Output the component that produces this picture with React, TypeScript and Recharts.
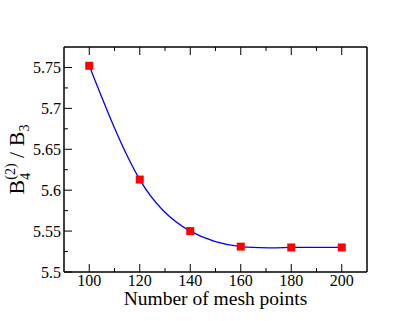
import { LineChart, Line, XAxis, YAxis, Label } from 'recharts';

const meshPoints = [100, 120, 140, 160, 180, 200];
const ratioValues = [5.752, 5.613, 5.55, 5.531, 5.53, 5.53];

const xTicks = [100, 110, 120, 130, 140, 150, 160, 170, 180, 190, 200];
const xLabels = ['100', '120', '140', '160', '180', '200'];
const yTicks = [5.5, 5.525, 5.55, 5.575, 5.6, 5.625, 5.65, 5.675, 5.7, 5.725, 5.75];
const yLabels = ['5.5', '5.55', '5.6', '5.65', '5.7', '5.75'];

const data = meshPoints.map((m, i) => ({ mesh: m, ratio: ratioValues[i] }));

const FONT = "'Liberation Serif', serif";

const isMajorX = (v: number) => xLabels.includes(String(v));
const yLabelFor = (v: number) => yLabels.find((l) => Math.abs(parseFloat(l) - v) < 1e-6);

function BottomTick(props: any) {
  const { x, y, payload } = props;
  const major = isMajorX(payload.value);
  return (
    <g>
      <line x1={x} x2={x} y1={y} y2={y - (major ? 8 : 4)} stroke="#000" strokeWidth={1} />
      {major && (
        <text x={x} y={y + 14} textAnchor="middle" style={{ fontFamily: FONT, fontSize: 16 }} fill="#000">
          {payload.value}
        </text>
      )}
    </g>
  );
}

function TopTick(props: any) {
  const { x, y, payload } = props;
  const major = isMajorX(payload.value);
  return <line x1={x} x2={x} y1={y} y2={y + (major ? 8 : 4)} stroke="#000" strokeWidth={1} />;
}

function LeftTick(props: any) {
  const { x, y, payload } = props;
  const label = yLabelFor(payload.value);
  return (
    <g>
      <line x1={x} x2={x + (label ? 8 : 4)} y1={y} y2={y} stroke="#000" strokeWidth={1} />
      {label && (
        <text x={x - 3} y={y + 5.5} textAnchor="end" style={{ fontFamily: FONT, fontSize: 16 }} fill="#000">
          {label}
        </text>
      )}
    </g>
  );
}

function RightTick(props: any) {
  const { x, y, payload } = props;
  const major = yLabelFor(payload.value) !== undefined;
  return <line x1={x} x2={x - (major ? 8 : 4)} y1={y} y2={y} stroke="#000" strokeWidth={1} />;
}

function XTitle(props: any) {
  const vb = props.viewBox;
  return (
    <text x={vb.x + vb.width / 2} y={vb.y + 33} textAnchor="middle" style={{ fontFamily: FONT, fontSize: 19.5 }} fill="#000">
      Number of mesh points
    </text>
  );
}

function YTitle(props: any) {
  const vb = props.viewBox;
  const cy = vb.y + vb.height / 2;
  return (
    <g transform={`translate(24, ${cy}) rotate(-90)`}>
      <text x={0} y={0} textAnchor="middle" style={{ fontFamily: FONT, fontSize: 22 }} fill="#000">
        <tspan>B</tspan>
        <tspan style={{ fontSize: 14 }} dy={-9}>(2)</tspan>
        <tspan style={{ fontSize: 14 }} dx={-16.3} dy={15}>4</tspan>
        <tspan style={{ fontSize: 22 }} dx={9.3} dy={-6}> / B</tspan>
        <tspan style={{ fontSize: 14 }} dy={5}>3</tspan>
      </text>
    </g>
  );
}

function SquareDot(props: any) {
  const { cx, cy } = props;
  if (cx == null || cy == null) return null;
  return <rect x={cx - 4} y={cy - 4} width={8} height={8} fill="#ff0000" />;
}

export default function App() {
  return (
    <div style={{ position: 'absolute', left: 0, top: 0, background: '#fff' }}>
      <LineChart
        width={415}
        height={321}
        data={data}
        margin={{ top: 46, right: 47, bottom: 19, left: 20 }}
      >
        <XAxis
          xAxisId="bottom"
          dataKey="mesh"
          type="number"
          domain={[90, 210]}
          ticks={xTicks}
          interval={0}
          height={30}
          tickSize={0}
          tickMargin={0}
          axisLine={{ stroke: '#000', strokeWidth: 1.5 }}
          tick={<BottomTick />}
        >
          <Label content={<XTitle />} />
        </XAxis>
        <XAxis
          xAxisId="top"
          orientation="top"
          dataKey="mesh"
          type="number"
          domain={[90, 210]}
          ticks={xTicks}
          interval={0}
          height={1}
          tickSize={0}
          tickMargin={0}
          axisLine={{ stroke: '#000', strokeWidth: 1.5 }}
          tick={<TopTick />}
        />
        <YAxis
          yAxisId="left"
          type="number"
          domain={[5.5, 5.775]}
          ticks={yTicks}
          interval={0}
          width={44}
          tickSize={0}
          tickMargin={0}
          axisLine={{ stroke: '#000', strokeWidth: 1.5 }}
          tick={<LeftTick />}
        >
          <Label content={<YTitle />} />
        </YAxis>
        <YAxis
          yAxisId="right"
          orientation="right"
          type="number"
          domain={[5.5, 5.775]}
          ticks={yTicks}
          interval={0}
          width={1}
          tickSize={0}
          tickMargin={0}
          axisLine={{ stroke: '#000', strokeWidth: 1.5 }}
          tick={<RightTick />}
        />
        <Line
          xAxisId="bottom"
          yAxisId="left"
          type="natural"
          dataKey="ratio"
          stroke="#0000ff"
          strokeWidth={1.3}
          dot={<SquareDot />}
          activeDot={false}
          isAnimationActive={false}
        />
      </LineChart>
    </div>
  );
}
